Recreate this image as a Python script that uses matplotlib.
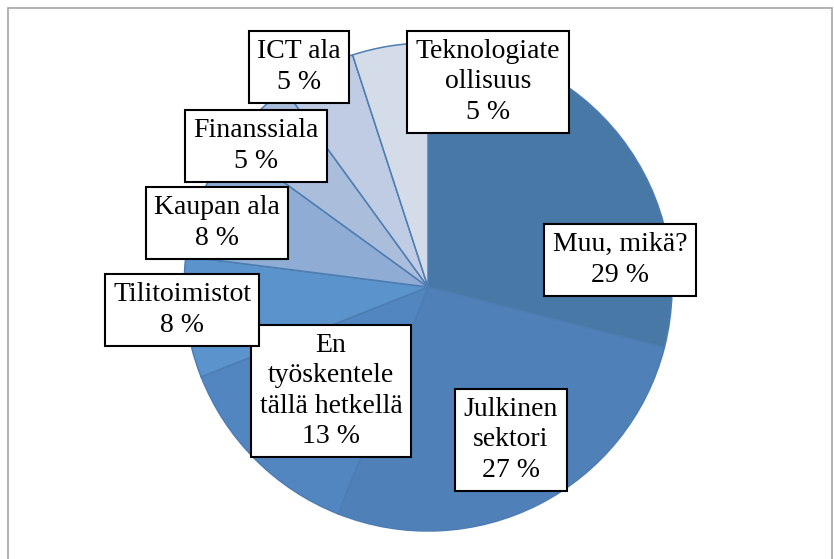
import matplotlib
matplotlib.use("Agg")
import matplotlib.pyplot as plt
from matplotlib.patches import Rectangle

categories = ["Muu, mikä?", "Julkinen\nsektori", "En\ntyöskentele\ntällä hetkellä",
              "Tilitoimistot", "Kaupan ala", "Finanssiala", "ICT ala",
              "Teknologiate\nollisuus"]
values = [29, 27, 13, 8, 8, 5, 5, 5]
colors = ["#4878a6", "#4f81b8", "#5286c0", "#5b94cc", "#8eacd4", "#aabddb", "#c0cce3", "#d4dce9"]
# label box centres in pixels (layout only)
label_px = [(620, 260), (511, 440), (331, 391), (182, 310), (217, 223), (256, 146), (299, 67), (488, 82)]

W, H = 834, 559
fig = plt.figure(figsize=(W / 100, H / 100), dpi=100)
cx, cy, R = 428, 287, 244
ax = fig.add_axes([(cx - R) / W, (H - cy - R) / H, 2 * R / W, 2 * R / H])

wedges, _ = ax.pie(values, colors=colors, startangle=90, counterclock=False, radius=1,
                   wedgeprops=dict(edgecolor="#4d7db3", linewidth=1.1))
ax.set_xlim(-1, 1)
ax.set_ylim(-1, 1)
ax.set_aspect("equal")
ax.axis("off")

for lab, v, (px, py) in zip(categories, values, label_px):
    x = (px - cx) / R
    y = (cy - py) / R
    ax.text(x, y, f"{lab}\n{v} %", ha="center", va="center", fontsize=20,
            family="Liberation Serif", linespacing=1.28, clip_on=False,
            bbox=dict(boxstyle="square,pad=0.3", facecolor="white", edgecolor="black", linewidth=1.5),
            zorder=5)

fig.patches.append(Rectangle((8 / W, -0.1), (W - 10) / W, (H - 8) / H + 0.1, transform=fig.transFigure,
                             fill=False, edgecolor="#a6a6a6", linewidth=1.2))

fig.savefig("out.png", dpi=100, facecolor="white")
